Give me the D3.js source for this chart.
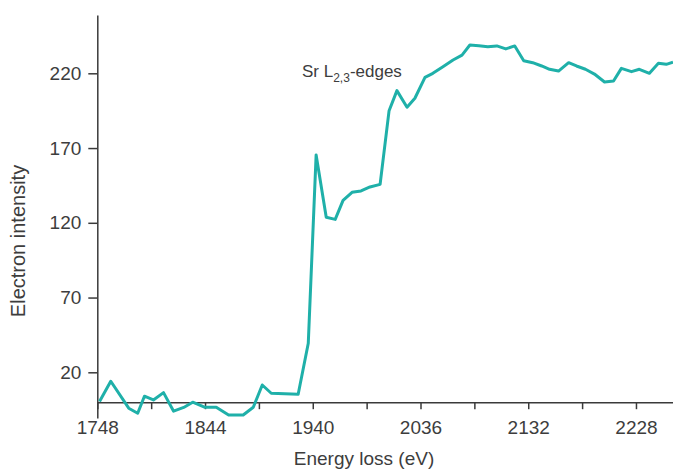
<!DOCTYPE html>
<html>
<head>
<meta charset="utf-8">
<script src="https://cdn.jsdelivr.net/npm/d3@7"></script>
<style>
  html, body { margin: 0; padding: 0; background: #fff; }
  svg { display: block; font-family: "Liberation Sans", Arial, sans-serif; }
</style>
</head>
<body>
<svg id="chart" width="673" height="470"></svg>
<script>
// Sr L2,3-edge EELS spectrum
const energy = [1750, 1760, 1776, 1784, 1790, 1798, 1807, 1816, 1825, 1833, 1844, 1854,
  1865, 1878, 1887, 1895, 1903, 1927, 1936, 1943, 1952, 1960, 1967, 1975, 1983, 1991,
  2000, 2008, 2015, 2024, 2031, 2040, 2047, 2056, 2065, 2073, 2080, 2088, 2096, 2104,
  2112, 2120, 2128, 2136, 2144, 2151, 2159, 2168, 2175, 2183, 2191, 2200, 2208, 2215,
  2224, 2231, 2240, 2248, 2255, 2261];
const intensity = [0.5, 14, -4, -7.4, 4, 1.5, 6.4, -6, -3.5, 0, -3.4, -3.4,
  -8.6, -8.6, -3.4, 11.5, 6, 5.3, 39.4, 165.4, 123.7, 122.3, 135, 140.4, 141.3, 144,
  145.7, 195, 208.4, 197.3, 203.3, 217.3, 220, 224.4, 228.9, 232.2, 238.9, 238.5, 237.8, 238.3,
  236.3, 238.3, 228.4, 227.1, 224.9, 222.7, 221.5, 227.1, 224.9, 222.7, 219.5, 214.2, 214.8, 223.3,
  221.1, 222.7, 220, 226.7, 226, 227.4];
const xTickValues = [1748, 1796, 1844, 1892, 1940, 1988, 2036, 2084, 2132, 2180, 2228];
const xTickLabels = [1748, 1844, 1940, 2036, 2132, 2228];
const yTickValues = [20, 70, 120, 170, 220];

const svg = d3.select("#chart");
const W = 673;
const left = 97.3;

const x = d3.scaleLinear().domain([1748, 2261]).range([left, W]);
const y = d3.scaleLinear().domain([-10.5, 259]).range([417.9, 15.0]);

const axisColor = "#3a3a3a";
const textColor = "#3d3d3d";

// x axis drawn at zero intensity
const gx = svg.append("g")
  .attr("transform", `translate(0,${y(0)})`)
  .call(d3.axisBottom(x)
    .tickValues(xTickValues)
    .tickSize(7)
    .tickSizeOuter(0)
    .tickPadding(11)
    .tickFormat(d => xTickLabels.includes(d) ? d : ""));
gx.select(".domain").attr("stroke", axisColor).attr("stroke-width", 1.5);
gx.selectAll(".tick line").attr("stroke", axisColor).attr("stroke-width", 1.5);
gx.selectAll(".tick text").attr("fill", textColor).style("font-size", "19px")
  .style("font-family", "'Liberation Sans', Arial, sans-serif");

// y axis
const gy = svg.append("g")
  .attr("transform", `translate(${left},0)`)
  .call(d3.axisLeft(y)
    .tickValues(yTickValues)
    .tickSize(9)
    .tickSizeOuter(0)
    .tickPadding(7));
gy.select(".domain").attr("stroke", axisColor).attr("stroke-width", 1.5);
gy.selectAll(".tick line").attr("stroke", axisColor).attr("stroke-width", 1.5);
gy.selectAll(".tick text").attr("fill", textColor).style("font-size", "19px")
  .style("font-family", "'Liberation Sans', Arial, sans-serif");

// spectrum line
const data = energy.map((e, i) => ({ e, v: intensity[i] }));
svg.append("path")
  .datum(data)
  .attr("fill", "none")
  .attr("stroke", "#1fb0a9")
  .attr("stroke-width", 3)
  .attr("stroke-linejoin", "round")
  .attr("d", d3.line().x(d => x(d.e)).y(d => y(d.v)));

// axis titles
svg.append("text")
  .attr("x", 364).attr("y", 465)
  .attr("text-anchor", "middle")
  .attr("fill", textColor)
  .style("font-size", "19px")
  .text("Energy loss (eV)");

svg.append("text")
  .attr("transform", "translate(25,241) rotate(-90)")
  .attr("text-anchor", "middle")
  .attr("fill", textColor)
  .style("font-size", "20px")
  .text("Electron intensity");

// edge annotation
const ann = svg.append("text")
  .attr("x", 302).attr("y", 77.3)
  .attr("fill", textColor)
  .style("font-size", "17px");
ann.append("tspan").text("Sr L");
ann.append("tspan").attr("dy", 5).style("font-size", "12px").text("2,3");
ann.append("tspan").attr("dy", -5).text("-edges");
</script>
</body>
</html>
